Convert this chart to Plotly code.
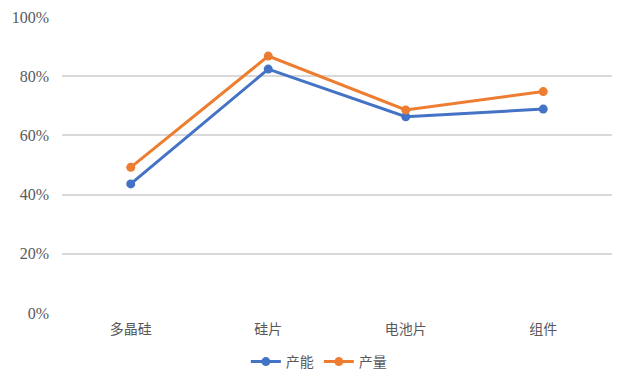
import plotly.graph_objects as go

categories = ["多晶硅", "硅片", "电池片", "组件"]
capacity = [43.6, 82.4, 66.3, 68.9]
output = [49.2, 86.8, 68.6, 74.8]
y_ticks = [0, 20, 40, 60, 80, 100]
y_tick_labels = ["0%", "20%", "40%", "60%", "80%", "100%"]

fig = go.Figure()
fig.add_trace(go.Scatter(x=categories, y=capacity, name="产能", mode="lines+markers",
                         line=dict(color="#4472C4", width=3), marker=dict(size=9, color="#4472C4")))
fig.add_trace(go.Scatter(x=categories, y=output, name="产量", mode="lines+markers",
                         line=dict(color="#ED7D31", width=3), marker=dict(size=9, color="#ED7D31")))

fig.update_layout(
    width=644, height=386,
    margin=dict(l=54, r=40, t=9, b=81, autoexpand=False),
    paper_bgcolor="white", plot_bgcolor="white",
    font=dict(family="Liberation Serif, Noto Sans CJK SC", size=14, color="#595959"),
    legend=dict(orientation="h", x=0.467, xanchor="center", y=0.083, yanchor="middle",
                yref="container",
                font=dict(family="Noto Sans CJK SC", size=14, color="#595959"),
                itemwidth=30),
    showlegend=True,
)
fig.update_xaxes(type="category", showgrid=False, showline=False, zeroline=False,
                 ticks="", automargin=False, ticklabelstandoff=6,
                 tickfont=dict(family="Noto Sans CJK SC", size=14, color="#595959"),
                 range=[-0.5, 3.5])
fig.update_yaxes(range=[0, 100], tickvals=y_ticks, ticktext=y_tick_labels,
                 showgrid=True, gridcolor="#D9D9D9", gridwidth=1.5, zeroline=False,
                 showline=False, ticks="", automargin=False, ticklabelstandoff=12,
                 tickfont=dict(family="Liberation Serif", size=16, color="#595959"))

fig.write_html("out.html")
